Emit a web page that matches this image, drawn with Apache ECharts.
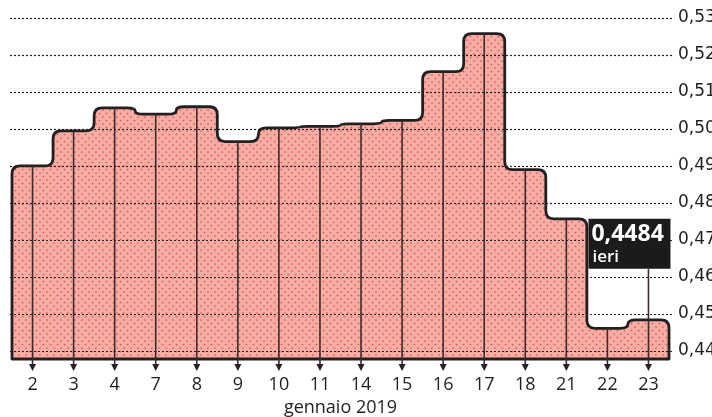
<!DOCTYPE html>
<html><head><meta charset="utf-8">
<script src="https://cdn.jsdelivr.net/npm/echarts@6/dist/echarts.min.js"></script>
<style>html,body{margin:0;padding:0;background:#fff}#c{width:712px;height:417px}</style>
</head><body><div id="c"></div>
<script>
// ---- data ----
const categories = ['2','3','4','7','8','9','10','11','14','15','16','17','18','21','22','23'];
const values = [0.4900, 0.4995, 0.5057, 0.5040, 0.5060, 0.4966, 0.5003, 0.5007, 0.5014, 0.5023, 0.5155, 0.5258, 0.4890, 0.4757, 0.4461, 0.4484];
const yTickValues = [0.44, 0.45, 0.46, 0.47, 0.48, 0.49, 0.50, 0.51, 0.52, 0.53];
const yTickLabels = ['0,44','0,45','0,46','0,47','0,48','0,49','0,50','0,51','0,52','0,53'];
const xTitle = 'gennaio 2019';
const calloutIndex = 15;
const calloutValue = '0,4484';
const calloutNote = 'ieri';
const baseMin = 0.4378;

const FONT = '"Open Sans", "Noto Sans", sans-serif';
const YFONT = '"DejaVu Sans", "Open Sans", sans-serif';
const INK = '#231f20';
const TXT = '#1f1f1f';

function makePattern() {
  const c = document.createElement('canvas');
  c.width = 7; c.height = 7;
  const g = c.getContext('2d');
  g.fillStyle = '#f7aca4';
  g.fillRect(0, 0, 7, 7);
  g.fillStyle = '#d9514c';
  [[1.5, 1.5], [5, 5]].forEach(function (d) {
    g.beginPath(); g.arc(d[0], d[1], 0.85, 0, Math.PI * 2); g.fill();
  });
  return c;
}
const pattern = { image: makePattern(), repeat: 'repeat' };

function roundedPath(pts, r) {
  let d = 'M' + pts[0][0] + ' ' + pts[0][1];
  for (let i = 1; i < pts.length - 1; i++) {
    const p = pts[i], a = pts[i - 1], b = pts[i + 1];
    const l1 = Math.hypot(p[0] - a[0], p[1] - a[1]);
    const l2 = Math.hypot(b[0] - p[0], b[1] - p[1]);
    if (l1 < 0.01 || l2 < 0.01) { d += ' L' + p[0] + ' ' + p[1]; continue; }
    const d1 = Math.min(r, l1 / 2), d2 = Math.min(r, l2 / 2);
    const s = [p[0] - (p[0] - a[0]) / l1 * d1, p[1] - (p[1] - a[1]) / l1 * d1];
    const e = [p[0] + (b[0] - p[0]) / l2 * d2, p[1] + (b[1] - p[1]) / l2 * d2];
    d += ' L' + s[0] + ' ' + s[1] + ' Q' + p[0] + ' ' + p[1] + ' ' + e[0] + ' ' + e[1];
  }
  const last = pts[pts.length - 1];
  d += ' L' + last[0] + ' ' + last[1] + ' Z';
  return d;
}

function renderMain(params, api) {
  const i = params.dataIndex;
  const bw = api.size([1, 0])[0];
  const p = api.coord([i, api.value(1)]);
  const bottom = api.coord([i, baseMin])[1];
  const children = [];
  if (i === 0) {
    const pts = [];
    const n = values.length;
    const c0 = api.coord([0, values[0]]);
    pts.push([c0[0] - bw / 2, bottom]);
    for (let k = 0; k < n; k++) {
      const c = api.coord([k, values[k]]);
      pts.push([c[0] - bw / 2, c[1]]);
      pts.push([c[0] + bw / 2, c[1]]);
    }
    const cl = api.coord([n - 1, values[n - 1]]);
    pts.push([cl[0] + bw / 2, bottom]);
    children.push({
      type: 'path',
      shape: { pathData: roundedPath(pts, 8) },
      style: { fill: pattern, stroke: INK, lineWidth: 2.8, lineJoin: 'round' }
    });
  }
  const top = (i === calloutIndex) ? p[1] - 51 : p[1];
  children.push({
    type: 'line',
    shape: { x1: p[0], y1: top, x2: p[0], y2: bottom + 7 },
    style: { stroke: '#3a2c2c', lineWidth: 1.6 }
  });
  children.push({
    type: 'polygon',
    shape: { points: [[p[0] - 3.5, bottom + 5], [p[0] + 3.5, bottom + 5], [p[0], bottom + 12]] },
    style: { fill: '#2a2222' }
  });
  return { type: 'group', children: children };
}

function renderCallout(params, api) {
  const i = params.dataIndex;
  if (i !== calloutIndex) return null;
  const p = api.coord([i, api.value(1)]);
  const bx = p[0] - 60, by = p[1] - 101;
  return {
    type: 'group',
    children: [
      { type: 'rect', shape: { x: bx, y: by, width: 82, height: 50 }, style: { fill: '#1c1a1a' } },
      { type: 'text', style: { text: calloutValue, x: bx + 3, y: by + 16, fill: '#fff', font: 'bold 23px ' + FONT, verticalAlign: 'middle', align: 'left' } },
      { type: 'text', style: { text: calloutNote, x: bx + 4, y: by + 38, fill: '#fff', font: '600 17px ' + FONT, verticalAlign: 'middle', align: 'left' } }
    ]
  };
}

const seriesData = values.map(function (v, i) { return [i, v]; });

const chart = echarts.init(document.getElementById('c'), null, { renderer: 'canvas' });
chart.setOption({
  animation: false,
  backgroundColor: '#fff',
  grid: [
    { left: 12, right: 43, top: 18, bottom: 58, outerBoundsMode: 'none', containLabel: false },
    { left: 10, right: 40, top: 18, bottom: 66, outerBoundsMode: 'none', containLabel: false }
  ],
  xAxis: [
    {
      type: 'category', gridIndex: 0, data: categories, boundaryGap: true,
      axisLine: { show: false }, axisTick: { show: false },
      axisLabel: { margin: 17, fontSize: 18, color: TXT, fontFamily: FONT },
      name: xTitle, nameLocation: 'middle', nameGap: 39,
      nameTextStyle: { fontSize: 18, color: TXT, fontFamily: FONT }
    },
    { type: 'category', gridIndex: 1, data: categories, show: false }
  ],
  yAxis: [
    { type: 'value', gridIndex: 0, min: baseMin, max: 0.53, show: false },
    {
      type: 'value', gridIndex: 1, position: 'right', min: 0.44, max: 0.53, interval: 0.01, z: 4,
      axisLine: { show: false }, axisTick: { show: false },
      splitLine: { show: true, lineStyle: { color: '#222', width: 1.2, type: [2, 2] } },
      axisLabel: {
        margin: 6, fontSize: 17, color: TXT, fontFamily: YFONT,
        verticalAlign: 'middle', padding: [11, 0, 0, 0],
        formatter: function (v) {
          const k = yTickValues.findIndex(function (t) { return Math.abs(t - v) < 1e-6; });
          return k >= 0 ? yTickLabels[k] : '';
        }
      }
    }
  ],
  series: [
    { type: 'custom', xAxisIndex: 0, yAxisIndex: 0, z: 2, renderItem: renderMain, data: seriesData },
    { type: 'custom', xAxisIndex: 0, yAxisIndex: 0, z: 6, renderItem: renderCallout, data: seriesData }
  ]
});
</script>
</body></html>
